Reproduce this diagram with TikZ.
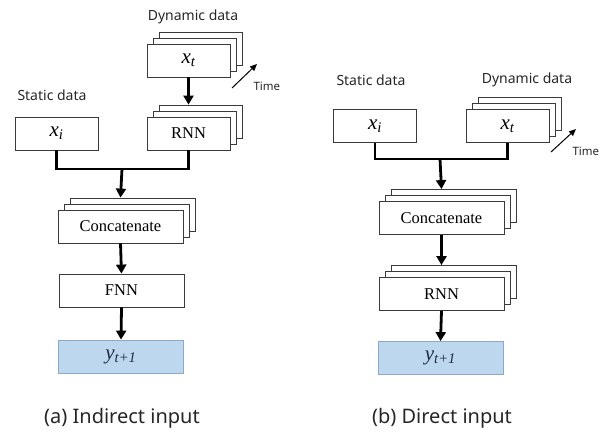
\documentclass[tikz,border=0pt]{standalone}
\usepackage{fontspec}
\setmainfont{Liberation Serif}
\setsansfont{Noto Sans}
\usepackage{xcolor}
\usetikzlibrary{positioning, arrows.meta, shadows, calc}
\definecolor{outfill}{HTML}{BDD7EE}
\definecolor{outborder}{HTML}{8EA9C8}
\definecolor{outtext}{HTML}{1F2A44}
\definecolor{boxborder}{HTML}{3A3A3A}

\newcommand{\varsym}[2]{{\fontsize{21}{22}\selectfont\itshape #1\textsubscript{#2}}}

\tikzset{
  box/.style={draw=boxborder, fill=white, line width=0.8pt, inner sep=0pt,
              minimum width=83pt, minimum height=33pt,
              font=\fontsize{16.5}{18}\selectfont},
  widebox/.style={box, minimum width=125pt},
  stackbox/.style={box, double copy shadow={shadow xshift=6pt, shadow yshift=6pt,
                   draw=boxborder, fill=white, line width=0.8pt}},
  widestack/.style={stackbox, minimum width=125pt},
  outbox/.style={widebox, fill=outfill, draw=outborder, text=outtext},
  lbl/.style={font=\sffamily\fontsize{14}{16}\selectfont, text=black!85},
  caption/.style={font=\sffamily\fontsize{20}{22}\selectfont, text=black!85},
  timelbl/.style={font=\sffamily\fontsize{11.5}{13}\selectfont, text=black!85},
  link/.style={line width=2.8pt, black},
  arr/.style={link, -{Triangle[width=10pt,length=9pt]}},
  timearr/.style={line width=1pt, -{Triangle[width=6pt,length=7pt]}}
}

\begin{document}
\begin{tikzpicture}[x=1pt, y=-1pt]
  \useasboundingbox (0,0) rectangle (605,431);

  % (a) indirect input
  \node[lbl] (dynlblA) at (193,17) {Dynamic data};
  \node[stackbox] (dynA) at (188.5,60.5) {\varsym{x}{t}};
  \node[lbl] (statlblA) at (52,95) {Static data};
  \node[box] (statA) at (56.5,133.5) {\varsym{x}{i}};
  \node[stackbox] (rnnA) at (188.5,133.5) {RNN};
  \node[widestack] (catA) at (120.5,226.5) {Concatenate};
  \node[widebox] (fnnA) at (121.5,290.5) {FNN};
  \node[outbox] (outA) at (121,356.5) {\varsym{y}{t+1}};
  \node[caption] (capA) at (122,418) {(a) Indirect input};

  \coordinate (timeA0) at (232,88);
  \coordinate (timeA1) at (257,64);
  \draw[timearr] (timeA0) -- (timeA1);
  \node[timelbl, anchor=west] (timelblA) at (250,86) {Time};

  \coordinate (joinA) at (122,169);
  \draw[arr] (dynA.south) -- ([yshift=12pt]rnnA.north);
  \draw[link] (statA.south) |- (joinA) -| (rnnA.south);
  \draw[arr] (joinA) -- ([yshift=12pt]catA.north);
  \draw[arr] (catA.south) -- (fnnA.north);
  \draw[arr] (fnnA.south) -- (outA.north);

  % (b) direct input
  \node[lbl] (statlblB) at (371,80) {Static data};
  \node[lbl] (dynlblB) at (527,80) {Dynamic data};
  \node[box] (statB) at (375,126) {\varsym{x}{i}};
  \node[stackbox] (dynB) at (507.5,126) {\varsym{x}{t}};
  \node[widestack] (catB) at (441.5,218) {Concatenate};
  \node[widestack] (rnnB) at (441.5,294) {RNN};
  \node[outbox] (outB) at (440.5,358) {\varsym{y}{t+1}};
  \node[caption] (capB) at (442,418) {(b) Direct input};

  \coordinate (timeB0) at (551,152);
  \coordinate (timeB1) at (576,129);
  \draw[timearr] (timeB0) -- (timeB1);
  \node[timelbl, anchor=west] (timelblB) at (569,151) {Time};

  \coordinate (joinB) at (440,159);
  \draw[link] (statB.south) |- (joinB) -| (dynB.south);
  \draw[arr] (joinB) -- ([yshift=12pt]catB.north);
  \draw[arr] (catB.south) -- ([yshift=12pt]rnnB.north);
  \draw[arr] (rnnB.south) -- (outB.north);
\end{tikzpicture}
\end{document}
